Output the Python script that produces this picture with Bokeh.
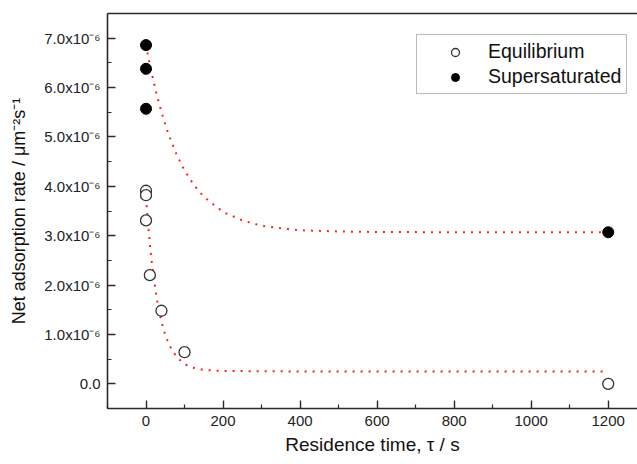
from bokeh.plotting import figure
from bokeh.models import FixedTicker, LinearAxis, Legend, LegendItem, Range1d
from bokeh.embed import file_html
from bokeh.resources import INLINE

# Rates are given in units of 1e-6 um^-2 s^-1
eq_t = [0, 0, 0, 10, 40, 100, 1200]
eq_rate = [3.91, 3.82, 3.31, 2.20, 1.48, 0.64, 0.00]
ss_t = [0, 0, 0, 1200]
ss_rate = [6.86, 6.38, 5.57, 3.07]

# fitted curves
eq_fit_t = [0, 5, 10, 15, 20, 30, 40, 50, 60, 70, 80, 100, 120, 150, 200, 400, 800, 1200]
eq_fit_rate = [3.78, 3.27, 2.83, 2.46, 2.14, 1.63, 1.26, 0.99, 0.79, 0.65, 0.54, 0.40, 0.33, 0.28, 0.26, 0.25, 0.25, 0.25]
ss_fit_t = [0, 5, 10, 20, 30, 40, 50, 60, 80, 100, 125, 150, 200, 250, 300, 350, 400, 500, 600, 800, 1200]
ss_fit_rate = [6.87, 6.66, 6.47, 6.11, 5.79, 5.51, 5.25, 5.02, 4.63, 4.32, 4.02, 3.79, 3.48, 3.31, 3.20, 3.15, 3.11, 3.085, 3.075, 3.07, 3.07]

x_major = [0, 200, 400, 600, 800, 1000, 1200]
x_minor = [-100, 100, 300, 500, 700, 900, 1100]
y_major = [0, 1, 2, 3, 4, 5, 6, 7]
y_minor = [-0.5, 0.5, 1.5, 2.5, 3.5, 4.5, 5.5, 6.5, 7.5]
y_labels = ["0.0", "1.0x10\u207b\u2076", "2.0x10\u207b\u2076", "3.0x10\u207b\u2076",
            "4.0x10\u207b\u2076", "5.0x10\u207b\u2076", "6.0x10\u207b\u2076", "7.0x10\u207b\u2076"]

FONT = "Liberation Sans"
AX = "#2a2a2a"

p = figure(width=637, height=464, output_backend="svg", toolbar_location=None,
           x_range=Range1d(-100, 1276), y_range=Range1d(-0.5, 7.5),
           min_border_left=107, min_border_right=0, min_border_top=13, min_border_bottom=56)
p.grid.visible = False
p.outline_line_color = None

for ax in (p.xaxis[0], p.yaxis[0]):
    ax.axis_line_color = AX
    ax.axis_line_width = 1.6
    ax.major_tick_line_color = AX
    ax.minor_tick_line_color = AX
    ax.major_tick_line_width = 1.4
    ax.minor_tick_line_width = 1.2
    ax.major_tick_in = 8
    ax.major_tick_out = 0
    ax.minor_tick_in = 4
    ax.minor_tick_out = 0
    ax.major_label_text_font = FONT
    ax.major_label_text_font_size = "15px"
    ax.major_label_text_color = "#222222"
    ax.axis_label_text_font = FONT
    ax.axis_label_text_font_style = "normal"
    ax.axis_label_text_font_size = "19px"
    ax.axis_label_text_color = "#111111"

xa = p.xaxis[0]
xa.ticker = FixedTicker(ticks=x_major, minor_ticks=x_minor)
xa.axis_label = "Residence time, \u03c4 / s"
xa.major_label_standoff = 7
xa.axis_label_standoff = 5

ya = p.yaxis[0]
ya.ticker = FixedTicker(ticks=y_major, minor_ticks=y_minor)
ya.major_label_overrides = {v: s for v, s in zip(y_major, y_labels)}
ya.axis_label = "Net adsorption rate / \u03bcm\u207b\u00b2s\u207b\u00b9"
ya.axis_label_text_font_size = "18px"
ya.major_label_standoff = 7
ya.axis_label_standoff = 12

top = LinearAxis(ticker=FixedTicker(ticks=[], minor_ticks=[]),
                 axis_line_color=AX, axis_line_width=1.6,
                 major_tick_line_color=None, minor_tick_line_color=None,
                 major_label_standoff=0)
p.add_layout(top, "above")

p.line(eq_fit_t, eq_fit_rate, line_color="#ff2020", line_width=2, line_dash="2 6")
p.line(ss_fit_t, ss_fit_rate, line_color="#ff2020", line_width=2, line_dash="2 6")

r_eq = p.scatter(eq_t, eq_rate, size=11, marker="circle", fill_color="white",
                 line_color="#333333", line_width=1.3)
r_ss = p.scatter(ss_t, ss_rate, size=11, marker="circle", fill_color="black",
                 line_color="black", line_width=1)

legend = Legend(items=[LegendItem(label="Equilibrium", renderers=[r_eq]),
                       LegendItem(label="Supersaturated", renderers=[r_ss])],
                location=(309, 314), padding=5, spacing=2, margin=0,
                glyph_width=66, glyph_height=20, label_height=20,
                label_standoff=0,
                label_text_font=FONT, label_text_font_size="19.5px",
                label_text_color="#111111",
                border_line_color="#777777", border_line_width=1.2,
                background_fill_color="white", background_fill_alpha=1)
p.add_layout(legend)

open("out.html", "w").write(file_html(p, INLINE))
